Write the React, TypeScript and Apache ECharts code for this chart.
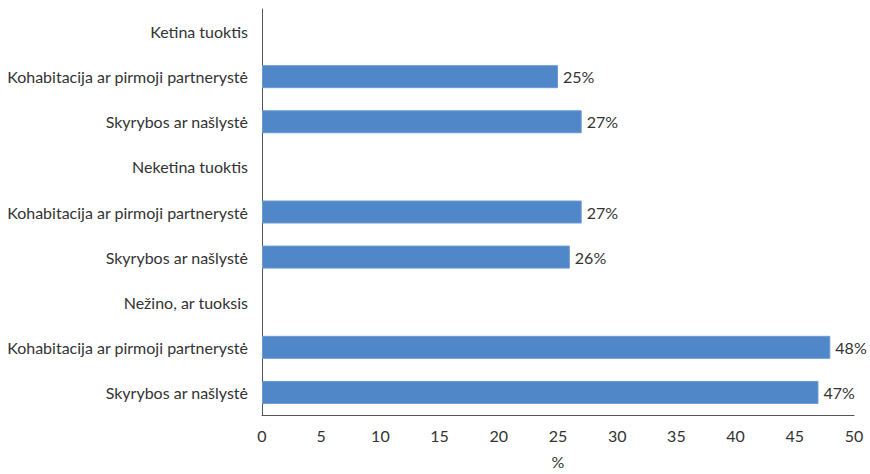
import React, { useEffect, useRef } from "react";
import * as echarts from "echarts";

const categories = [
  "Ketina tuoktis",
  "Kohabitacija ar pirmoji partnerystė",
  "Skyrybos ar našlystė",
  "Neketina tuoktis",
  "Kohabitacija ar pirmoji partnerystė ",
  "Skyrybos ar našlystė ",
  "Nežino, ar tuoksis",
  "Kohabitacija ar pirmoji partnerystė  ",
  "Skyrybos ar našlystė  ",
];
const values: (number | null)[] = [null, 25, 27, null, 27, 26, null, 48, 47];
const xTicks = { min: 0, max: 50, interval: 5 };

export default function App() {
  const ref = useRef<HTMLDivElement>(null);
  useEffect(() => {
    if (!ref.current) return;
    const chart = echarts.init(ref.current, undefined, { renderer: "svg" });
    chart.setOption({
      animation: false,
      textStyle: { fontFamily: "Lato" },
      grid: { left: 262, right: 16, top: 9, bottom: 52, containLabel: false },
      xAxis: {
        type: "value",
        min: xTicks.min,
        max: xTicks.max,
        interval: xTicks.interval,
        name: "%",
        nameLocation: "middle",
        nameGap: 38,
        nameTextStyle: { color: "#333", fontSize: 16, fontFamily: "Lato" },
        axisLine: { show: true, lineStyle: { color: "#555", width: 1 } },
        axisTick: { show: false },
        splitLine: { show: false },
        axisLabel: { color: "#333", fontSize: 16, margin: 12, fontFamily: "Lato" },
      },
      yAxis: {
        type: "category",
        data: categories,
        inverse: true,
        axisLine: { show: true, lineStyle: { color: "#555", width: 1 } },
        axisTick: { show: false },
        axisLabel: {
          color: "#333",
          fontSize: 16,
          margin: 14,
          fontFamily: "Lato",
          formatter: (v: string) => v.trim(),
        },
      },
      series: [
        {
          type: "bar",
          data: values,
          barWidth: 23,
          itemStyle: { color: "#4f87c8", borderColor: "#6b9bd3", borderWidth: 1 },
          label: {
            show: true,
            position: "right",
            distance: 5,
            color: "#333",
            fontSize: 16,
            fontFamily: "Lato",
            formatter: "{c}%",
          },
        },
      ],
    });
    return () => chart.dispose();
  }, []);
  return (
    <div
      ref={ref}
      style={{ position: "absolute", left: 0, top: 0, width: 870, height: 474 }}
    />
  );
}
